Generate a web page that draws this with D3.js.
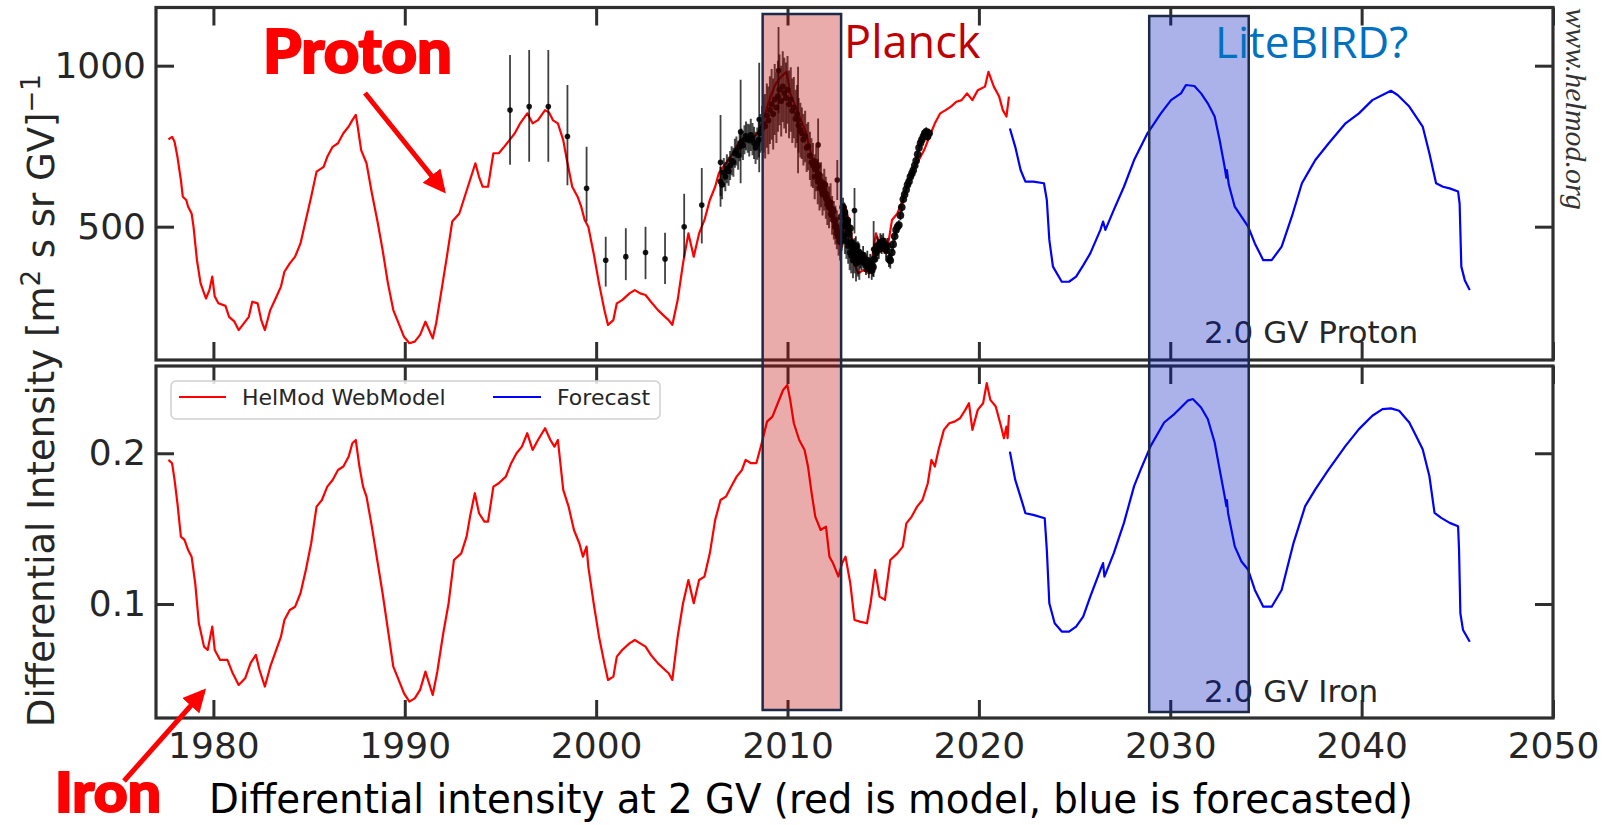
<!DOCTYPE html>
<html>
<head>
<meta charset="utf-8">
<script src="https://cdn.jsdelivr.net/npm/d3@7"></script>
<style>
  html, body { margin: 0; padding: 0; background: #ffffff; }
  svg { display: block; }
</style>
</head>
<body>
<svg id="chart" width="1608" height="825"></svg>
<script>
// ---------------------------------------------------------------
// Axis ticks
// ---------------------------------------------------------------
const yearTicks = [1980, 1990, 2000, 2010, 2020, 2030, 2040, 2050];
const protonTicks = [500, 1000];
const ironTicks = [0.1, 0.2];
const yearDomain = [1977, 2050];
const protonDomain = [86, 1180.7];
const ironDomain = [0.02435, 0.2579];

// Mission windows (years)
const planckSpan = [2008.7, 2012.8];
const litebirdSpan = [2028.9, 2034.1];

// ---------------------------------------------------------------
// HelMod model, 2 GV protons [m^2 s sr GV]^-1
// ---------------------------------------------------------------
const protonModel = [
  [1977.65,771],[1977.84,779],[1977.97,764],[1978.12,717],[1978.30,645],[1978.40,593],
  [1978.58,583],[1978.68,562],[1978.86,541],[1978.96,500],[1979.14,396],[1979.33,324],
  [1979.61,277],[1979.79,303],[1979.94,345],[1980.07,283],[1980.26,262],[1980.63,254],
  [1980.82,220],[1981.10,205],[1981.32,179],[1981.66,205],[1981.85,220],[1982.03,267],
  [1982.31,262],[1982.50,210],[1982.69,179],[1982.97,241],[1983.25,277],[1983.53,314],
  [1983.71,360],[1983.99,386],[1984.27,407],[1984.55,448],[1984.83,521],[1985.11,593],
  [1985.39,671],[1985.76,686],[1985.95,717],[1986.23,748],[1986.51,759],[1986.79,790],
  [1987.07,811],[1987.26,831],[1987.44,847],[1987.54,811],[1987.72,738],[1988.00,697],
  [1988.28,604],[1988.56,521],[1988.84,428],[1989.12,324],[1989.40,241],[1989.68,200],
  [1989.96,158],[1990.24,138],[1990.52,143],[1990.80,164],[1991.08,205],[1991.27,179],
  [1991.46,153],[1991.64,200],[1991.92,303],[1992.20,407],[1992.48,516],[1992.85,541],
  [1993.13,593],[1993.41,645],[1993.69,697],[1993.88,655],[1994.07,624],[1994.35,624],
  [1994.63,728],[1994.91,728],[1995.19,748],[1995.47,769],[1995.75,790],[1996.03,821],
  [1996.40,852],[1996.68,821],[1996.96,831],[1997.33,862],[1997.54,855],[1997.75,830],
  [1998.00,821],[1998.28,769],[1998.47,707],[1998.75,624],[1999.03,593],[1999.22,562],
  [1999.40,521],[1999.59,500],[1999.87,417],[2000.15,324],[2000.43,241],[2000.62,195],
  [2000.90,210],[2001.08,262],[2001.36,272],[2001.74,293],[2002.02,303],[2002.30,293],
  [2002.58,288],[2002.86,267],[2003.23,241],[2003.60,220],[2003.79,210],[2003.98,195],
  [2004.26,272],[2004.54,386],[2004.82,479],[2005.10,407],[2005.38,479],[2005.66,521],
  [2005.94,583],[2006.22,624],[2006.41,666],[2006.78,697],[2007.15,728],[2007.53,769],
  [2007.90,780],[2008.27,780],[2008.55,800],[2008.83,852],[2009.11,904],[2009.39,945],
  [2009.67,966],[2009.95,981],[2010.14,914],[2010.42,873],[2010.70,831],[2010.98,790],
  [2011.26,717],[2011.54,666],[2011.82,614],[2012.10,572],[2012.38,521],[2012.66,479],
  [2012.85,438],[2013.03,562],[2013.31,490],[2013.50,386],[2013.69,355],[2013.97,365],
  [2014.25,355],[2014.43,407],[2014.62,479],[2014.90,428],[2015.18,417],[2015.46,521],
  [2015.74,541],[2016.02,583],[2016.30,635],[2016.58,676],[2016.86,707],[2017.14,738],
  [2017.42,780],[2017.70,821],[2017.98,852],[2018.26,862],[2018.54,873],[2018.82,888],
  [2019.10,893],[2019.38,914],[2019.66,893],[2019.94,924],[2020.32,935],[2020.50,981],
  [2020.78,935],[2021.06,904],[2021.25,862],[2021.44,842],[2021.57,904]
];

// Forecast, 2 GV protons
const protonForecast = [
  [2021.62,805],[2021.90,748],[2022.18,676],[2022.43,640],[2022.84,640],[2023.40,635],
  [2023.55,583],[2023.68,459],[2023.87,376],[2024.33,329],[2024.71,329],[2025.08,345],
  [2025.45,380],[2025.82,417],[2026.35,490],[2026.49,516],[2026.61,490],[2027.05,552],
  [2027.58,624],[2028.11,707],[2028.81,790],[2029.51,852],[2030.04,893],[2030.56,914],
  [2030.82,940],[2031.26,937],[2031.61,914],[2031.96,883],[2032.32,842],[2032.58,769],
  [2032.84,686],[2032.93,652],[2032.96,676],[2033.06,630],[2033.37,562],[2033.72,531],
  [2034.07,500],[2034.42,448],[2034.86,396],[2035.30,396],[2035.82,438],[2036.35,531],
  [2036.88,635],[2037.23,671],[2037.58,707],[2038.28,759],[2039.16,821],[2039.86,852],
  [2040.56,893],[2041.09,909],[2041.53,922],[2041.88,909],[2042.49,873],[2042.84,842],
  [2043.19,811],[2043.54,728],[2043.89,635],[2044.25,624],[2044.60,619],[2045.04,609],
  [2045.12,572],[2045.21,376],[2045.39,334],[2045.65,303]
];

// HelMod model, 2 GV iron
const ironModel = [
  [1977.65,0.1956],[1977.84,0.1934],[1977.97,0.1823],[1978.12,0.1668],[1978.30,0.1447],
  [1978.49,0.1425],[1978.68,0.1358],[1978.86,0.1314],[1979.05,0.1137],[1979.24,0.0872],
  [1979.51,0.0717],[1979.70,0.0695],[1979.94,0.0850],[1980.07,0.0695],[1980.35,0.0629],
  [1980.73,0.0629],[1981.01,0.0540],[1981.32,0.0463],[1981.66,0.0507],[1981.94,0.0607],
  [1982.22,0.0662],[1982.41,0.0562],[1982.69,0.0452],[1982.97,0.0584],[1983.25,0.0684],
  [1983.53,0.0783],[1983.71,0.0894],[1983.99,0.0960],[1984.27,0.0982],[1984.55,0.1071],
  [1984.83,0.1226],[1985.11,0.1403],[1985.39,0.1646],[1985.67,0.1690],[1985.95,0.1779],
  [1986.23,0.1823],[1986.51,0.1889],[1986.79,0.1912],[1987.07,0.1978],[1987.26,0.2066],
  [1987.44,0.2088],[1987.63,0.1912],[1987.82,0.1779],[1988.00,0.1712],[1988.28,0.1513],
  [1988.56,0.1292],[1988.84,0.1071],[1989.12,0.0828],[1989.40,0.0584],[1989.68,0.0496],
  [1989.96,0.0407],[1990.24,0.0352],[1990.52,0.0374],[1990.80,0.0430],[1991.08,0.0551],
  [1991.27,0.0474],[1991.46,0.0396],[1991.70,0.0551],[1992.01,0.0806],[1992.29,0.1005],
  [1992.57,0.1292],[1992.95,0.1336],[1993.23,0.1447],[1993.41,0.1580],[1993.66,0.1735],
  [1993.88,0.1602],[1994.16,0.1547],[1994.35,0.1547],[1994.63,0.1779],[1994.91,0.1801],
  [1995.28,0.1845],[1995.56,0.1934],[1995.84,0.2000],[1996.12,0.2044],[1996.40,0.2133],
  [1996.68,0.2022],[1996.96,0.2088],[1997.33,0.2166],[1997.61,0.2088],[1997.82,0.2044],
  [1998.00,0.2088],[1998.28,0.1757],[1998.56,0.1646],[1998.84,0.1491],[1999.12,0.1403],
  [1999.31,0.1314],[1999.50,0.1381],[1999.59,0.1248],[1999.87,0.1005],[2000.15,0.0783],
  [2000.43,0.0606],[2000.62,0.0496],[2000.90,0.0518],[2001.08,0.0651],[2001.36,0.0695],
  [2001.74,0.0739],[2002.02,0.0761],[2002.30,0.0739],[2002.58,0.0717],[2002.86,0.0662],
  [2003.23,0.0606],[2003.60,0.0562],[2003.79,0.0540],[2003.98,0.0496],[2004.26,0.0783],
  [2004.54,0.1005],[2004.82,0.1159],[2005.10,0.1005],[2005.38,0.1159],[2005.66,0.1182],
  [2005.94,0.1336],[2006.22,0.1558],[2006.50,0.1690],[2006.78,0.1712],[2007.06,0.1779],
  [2007.34,0.1845],[2007.62,0.1889],[2007.81,0.1956],[2008.09,0.1934],[2008.37,0.1934],
  [2008.65,0.2066],[2008.93,0.2210],[2009.21,0.2243],[2009.49,0.2332],[2009.77,0.2420],
  [2009.99,0.2453],[2010.14,0.2354],[2010.33,0.2199],[2010.61,0.2088],[2010.89,0.2022],
  [2011.07,0.1912],[2011.26,0.1735],[2011.45,0.1580],[2011.73,0.1491],[2012.01,0.1513],
  [2012.19,0.1314],[2012.38,0.1270],[2012.66,0.1182],[2012.85,0.1270],[2013.03,0.1314],
  [2013.28,0.1137],[2013.50,0.0894],[2013.78,0.0883],[2014.15,0.0872],[2014.34,0.1005],
  [2014.58,0.1226],[2014.81,0.1049],[2015.09,0.1027],[2015.37,0.1292],[2015.74,0.1336],
  [2016.02,0.1381],[2016.21,0.1535],[2016.49,0.1580],[2016.77,0.1646],[2017.05,0.1690],
  [2017.33,0.1801],[2017.52,0.1956],[2017.70,0.1912],[2017.89,0.2022],[2018.17,0.2155],
  [2018.45,0.2199],[2018.73,0.2210],[2019.01,0.2232],[2019.29,0.2288],[2019.48,0.2332],
  [2019.66,0.2155],[2019.94,0.2288],[2020.22,0.2332],[2020.41,0.2465],[2020.60,0.2354],
  [2020.88,0.2310],[2021.16,0.2177],[2021.31,0.2100],[2021.44,0.2177],[2021.50,0.2100],
  [2021.57,0.2254]
];

// Forecast, 2 GV iron
const ironForecast = [
  [2021.62,0.2011],[2021.90,0.1823],[2022.28,0.1668],[2022.43,0.1602],[2022.84,0.1591],
  [2023.44,0.1569],[2023.55,0.1359],[2023.68,0.1005],[2023.96,0.0872],[2024.33,0.0817],
  [2024.71,0.0817],[2025.08,0.0850],[2025.45,0.0916],[2025.82,0.1049],[2026.35,0.1227],
  [2026.49,0.1271],[2026.56,0.1182],[2027.05,0.1338],[2027.58,0.1538],[2028.11,0.1782],
  [2028.46,0.1893],[2028.98,0.2049],[2029.68,0.2204],[2030.21,0.2260],[2030.56,0.2304],
  [2030.91,0.2349],[2031.18,0.2360],[2031.61,0.2304],[2031.96,0.2227],[2032.32,0.2071],
  [2032.58,0.1893],[2032.84,0.1716],[2032.93,0.1650],[2032.96,0.1690],[2033.02,0.1604],
  [2033.37,0.1382],[2033.72,0.1282],[2034.07,0.1227],[2034.42,0.1093],[2034.86,0.0982],
  [2035.30,0.0982],[2035.82,0.1093],[2036.44,0.1404],[2037.05,0.1649],[2037.58,0.1760],
  [2038.28,0.1893],[2039.16,0.2049],[2039.86,0.2160],[2040.56,0.2249],[2041.09,0.2293],
  [2041.53,0.2298],[2041.96,0.2282],[2042.49,0.2204],[2042.84,0.2116],[2043.19,0.2027],
  [2043.54,0.1849],[2043.81,0.1604],[2044.16,0.1571],[2044.60,0.1538],[2045.04,0.1516],
  [2045.09,0.1360],[2045.16,0.0938],[2045.30,0.0827],[2045.65,0.0749]
];

// Yearly proton measurements: [year, value, low, high]
const yearlyData = [
  [1995.5,862,692,1033],[1996.5,873,702,1049],[1997.5,873,702,1049],[1998.5,780,629,940],
  [1999.5,619,516,748],[2000.5,396,314,469],[2001.55,407,334,495],[2002.58,420,337,500],
  [2003.6,400,322,481],[2004.6,500,404,602],[2005.52,567,448,682],[2006.5,700,562,847],
  [2007.55,795,635,956],[2008.52,833,669,1009],[2009.53,985,852,1120],[2010.55,831,666,997],
  [2011.6,754,671,836],[2012.6,645,583,707],[2013.5,550,479,620],[2014.5,430,344,518]
];

// Monthly proton measurements: [year, value, error]
const monthlyData = [
  [2006.50,640,45],[2006.58,630,45],[2006.67,668,45],[2006.75,655,45],[2006.83,680,45],
  [2006.92,672,45],[2007.00,690,45],[2007.08,705,45],[2007.17,700,45],[2007.25,728,45],
  [2007.33,735,45],[2007.42,722,45],[2007.50,748,45],[2007.58,760,45],[2007.67,752,45],
  [2007.75,770,45],[2007.83,782,45],[2007.92,775,45],[2008.00,768,50],[2008.08,785,50],
  [2008.17,772,50],[2008.25,760,50],[2008.33,745,50],[2008.42,758,50],[2008.50,770,55],
  [2008.58,790,60],[2008.67,805,70],[2008.75,820,90],[2008.83,812,100],[2008.92,845,100],
  [2009.00,830,105],[2009.08,862,105],[2009.17,880,110],[2009.25,850,110],[2009.33,895,110],
  [2009.42,870,110],[2009.50,905,110],[2009.58,925,110],[2009.67,890,110],[2009.75,935,110],
  [2009.83,915,110],[2009.92,900,110],[2010.00,925,105],[2010.08,880,105],[2010.17,895,100],
  [2010.25,860,100],[2010.33,870,95],[2010.42,835,90],[2010.50,850,90],[2010.58,815,85],
  [2010.67,800,85],[2010.75,790,80],[2010.83,770,80],[2010.92,780,80],[2011.00,745,75],
  [2011.08,750,75],[2011.17,720,75],[2011.25,700,75],[2011.33,690,70],[2011.42,655,70],
  [2011.50,680,70],[2011.58,640,70],[2011.67,620,70],[2011.75,630,70],[2011.83,600,65],
  [2011.92,615,65],[2012.00,590,65],[2012.08,570,65],[2012.17,560,65],[2012.25,575,60],
  [2012.33,535,60],[2012.42,520,60],[2012.50,505,60],[2012.58,490,60],[2012.67,470,60],
  [2012.75,455,60],[2012.83,480,55],[2012.92,500,55],[2013.00,470,55],[2013.08,455,55],
  [2013.17,440,55],[2013.25,420,55],[2013.33,410,55],[2013.42,395,55],[2013.50,410,55],
  [2013.58,385,55],[2013.67,400,55],[2013.75,390,55]
];

// Bartels-rotation proton measurements: [year, value, error]
const rotationData = [
  [2011.40,700,14],[2011.47,680,14],[2011.55,690,14],[2011.62,660,14],[2011.70,640,14],
  [2011.77,625,14],[2011.85,610,14],[2011.92,630,14],[2012.00,600,14],[2012.07,585,14],
  [2012.15,570,14],[2012.22,560,14],[2012.30,540,14],[2012.37,550,14],[2012.45,520,14],
  [2012.52,500,14],[2012.60,480,14],[2012.67,470,14],[2012.75,455,14],[2012.82,530,30],
  [2012.90,560,30],[2012.97,545,30],[2013.05,510,30],[2013.12,520,30],[2013.20,480,30],
  [2013.27,495,30],[2013.35,450,30],[2013.42,430,30],[2013.50,420,30],[2013.57,440,30],
  [2013.65,410,30],[2013.72,420,30],[2013.80,400,30],[2013.87,395,30],[2013.95,410,30],
  [2014.02,390,30],[2014.10,380,30],[2014.17,395,30],[2014.25,370,30],[2014.32,385,30],
  [2014.40,365,30],[2014.47,375,30],[2014.55,400,30],[2014.62,420,30],[2014.70,440,30],
  [2014.77,430,30],[2014.85,450,30],[2014.92,445,30],[2015.00,455,25],[2015.07,440,25],
  [2015.15,430,25],[2015.22,440,25],[2015.30,400,25],[2015.37,395,25],[2015.45,420,20],
  [2015.52,445,20],[2015.60,470,18],[2015.67,490,18],[2015.75,500,15],[2015.82,505,15],
  [2015.90,535,15],[2015.97,560,15],[2016.05,585,14],[2016.12,600,14],[2016.20,615,14],
  [2016.27,630,14],[2016.35,640,14],[2016.42,655,14],[2016.50,665,14],[2016.57,675,14],
  [2016.65,690,14],[2016.72,705,14],[2016.80,725,14],[2016.87,745,14],[2016.95,760,14],
  [2017.02,770,14],[2017.10,780,14],[2017.17,790,14],[2017.25,795,14],[2017.32,780,14],
  [2017.40,790,14]
];

// ---------------------------------------------------------------
// Layout
// ---------------------------------------------------------------
const svg = d3.select("#chart");
const plotLeft = 156, plotRight = 1553;
const topPanel = { y0: 7.5, y1: 360 };
const botPanel = { y0: 366, y1: 718 };
const axisColor = "#2f2f2f";
const textColor = "#262626";
const tickFont = "'DejaVu Sans', sans-serif";

const x = d3.scaleLinear().domain(yearDomain).range([plotLeft, plotRight]);
const yP = d3.scaleLinear().domain(protonDomain).range([topPanel.y1, topPanel.y0]);
const yI = d3.scaleLinear().domain(ironDomain).range([botPanel.y1, botPanel.y0]);

const defs = svg.append("defs");
[["clipTop", topPanel], ["clipBot", botPanel]].forEach(([id, p]) => {
  defs.append("clipPath").attr("id", id)
    .append("rect").attr("x", plotLeft).attr("y", p.y0)
    .attr("width", plotRight - plotLeft).attr("height", p.y1 - p.y0);
});
defs.append("marker").attr("id", "arrowHead")
  .attr("viewBox", "0 0 10 10").attr("refX", 8).attr("refY", 5)
  .attr("markerWidth", 4.6).attr("markerHeight", 4.6).attr("orient", "auto")
  .attr("markerUnits", "strokeWidth")
  .append("path").attr("d", "M0,0 L10,5 L0,10 z").attr("fill", "#ff0000");

function styleAxis(g) {
  g.select(".domain").remove();
  g.selectAll(".tick line").attr("stroke", axisColor).attr("stroke-width", 3);
  g.selectAll(".tick text").attr("fill", textColor)
    .attr("font-family", tickFont).attr("font-size", 36);
  g.attr("font-family", null).attr("font-size", null);
}

function drawPanel(p, yScale, yTicks, yFmt, showYears) {
  const g = svg.append("g");
  const tick = 18;
  g.append("g").attr("transform", `translate(0,${p.y1})`)
    .call(d3.axisBottom(x).tickValues(yearTicks).tickSizeInner(-tick).tickSizeOuter(0)
      .tickPadding(14).tickFormat(showYears ? d3.format("d") : () => ""))
    .call(styleAxis);
  g.append("g").attr("transform", `translate(0,${p.y0})`)
    .call(d3.axisTop(x).tickValues(yearTicks).tickSizeInner(-tick).tickSizeOuter(0)
      .tickFormat(() => ""))
    .call(styleAxis);
  g.append("g").attr("transform", `translate(${plotLeft},0)`)
    .call(d3.axisLeft(yScale).tickValues(yTicks).tickSizeInner(-tick).tickSizeOuter(0)
      .tickPadding(10).tickFormat(yFmt))
    .call(styleAxis);
  g.append("g").attr("transform", `translate(${plotRight},0)`)
    .call(d3.axisRight(yScale).tickValues(yTicks).tickSizeInner(-tick).tickSizeOuter(0)
      .tickFormat(() => ""))
    .call(styleAxis);
  g.append("rect")
    .attr("x", plotLeft).attr("y", p.y0)
    .attr("width", plotRight - plotLeft).attr("height", p.y1 - p.y0)
    .attr("fill", "none").attr("stroke", axisColor).attr("stroke-width", 3.2);
  return g;
}

// ---------------------------------------------------------------
// Curves
// ---------------------------------------------------------------
function drawCurve(data, yScale, color, clip) {
  const line = d3.line().x(d => x(d[0])).y(d => yScale(d[1]));
  svg.append("path").datum(data)
    .attr("clip-path", `url(#${clip})`)
    .attr("d", line).attr("fill", "none")
    .attr("stroke", color).attr("stroke-width", 2.2)
    .attr("stroke-linejoin", "round");
}

drawCurve(protonModel, yP, "#ff0000", "clipTop");
drawCurve(protonForecast, yP, "#0000ff", "clipTop");
drawCurve(ironModel, yI, "#ff0000", "clipBot");
drawCurve(ironForecast, yI, "#0000ff", "clipBot");

// Measurements with error bars
const dataG = svg.append("g").attr("clip-path", "url(#clipTop)");
function drawPoints(rows, getLo, getHi, r, barW, barOpacity) {
  const g = dataG.append("g");
  g.selectAll("line").data(rows).join("line")
    .attr("x1", d => x(d[0])).attr("x2", d => x(d[0]))
    .attr("y1", d => yP(getLo(d))).attr("y2", d => yP(getHi(d)))
    .attr("stroke", "#000").attr("stroke-width", barW).attr("stroke-opacity", barOpacity);
  g.selectAll("circle").data(rows).join("circle")
    .attr("cx", d => x(d[0])).attr("cy", d => yP(d[1])).attr("r", r)
    .attr("fill", "#000").attr("fill-opacity", 0.9);
}
drawPoints(monthlyData, d => d[1] - d[2], d => d[1] + d[2], 3, 2, 0.7);
drawPoints(rotationData, d => d[1] - d[2], d => d[1] + d[2], 3.8, 1.8, 0.8);
drawPoints(yearlyData, d => d[2], d => d[3], 2.8, 1.8, 0.75);

// Frames, ticks and tick labels
drawPanel(topPanel, yP, protonTicks, d3.format("d"), false);
drawPanel(botPanel, yI, ironTicks, d3.format(".1f"), true);

// ---------------------------------------------------------------
// Legend (lower panel)
// ---------------------------------------------------------------
const legend = svg.append("g");
legend.append("rect")
  .attr("x", 171).attr("y", 381).attr("width", 489).attr("height", 38).attr("rx", 5)
  .attr("fill", "#ffffff").attr("fill-opacity", 0.85)
  .attr("stroke", "#d0d0d0").attr("stroke-width", 1.5);
const legendItems = [
  { label: "HelMod WebModel", color: "#ff0000", x0: 179, x1: 226, tx: 242 },
  { label: "Forecast", color: "#0000ff", x0: 493, x1: 541, tx: 557 }
];
legendItems.forEach(it => {
  legend.append("line").attr("x1", it.x0).attr("x2", it.x1).attr("y1", 397).attr("y2", 397)
    .attr("stroke", it.color).attr("stroke-width", 2.2);
  legend.append("text").attr("x", it.tx).attr("y", 405)
    .attr("font-family", tickFont).attr("font-size", 22).attr("fill", textColor)
    .text(it.label);
});

// Panel labels
svg.append("text").attr("x", 1204).attr("y", 343)
  .attr("font-family", tickFont).attr("font-size", 31).attr("fill", textColor)
  .text("2.0 GV Proton");
svg.append("text").attr("x", 1204).attr("y", 702)
  .attr("font-family", tickFont).attr("font-size", 31).attr("fill", textColor)
  .text("2.0 GV Iron");

// ---------------------------------------------------------------
// Mission windows
// ---------------------------------------------------------------
function missionBox(span, fill, y0, y1) {
  svg.append("rect")
    .attr("x", x(span[0])).attr("y", y0)
    .attr("width", x(span[1]) - x(span[0])).attr("height", y1 - y0)
    .attr("fill", fill).attr("fill-opacity", 0.33)
    .attr("stroke", "#1c2a48").attr("stroke-width", 2.5);
}
missionBox(planckSpan, "rgb(192,0,0)", 14, 710);
missionBox(litebirdSpan, "rgb(0,20,190)", 16, 712);

svg.append("text").attr("x", x(planckSpan[1]) + 3).attr("y", 58)
  .attr("font-family", "'Open Sans', 'Noto Sans', sans-serif").attr("font-size", 45)
  .attr("fill", "#c00000").text("Planck");
svg.append("text").attr("x", 1215).attr("y", 58)
  .attr("font-family", "'Open Sans', 'Noto Sans', sans-serif").attr("font-size", 44)
  .attr("fill", "#0070c0").text("LiteBIRD?");

// ---------------------------------------------------------------
// Species call-outs
// ---------------------------------------------------------------
function callout(label, tx, ty, size, width, ax1, ay1, ax2, ay2) {
  svg.append("text").attr("x", tx).attr("y", ty)
    .attr("font-family", "Lato, 'Liberation Sans', sans-serif").attr("font-weight", 900)
    .attr("font-size", size).attr("fill", "#ff0000")
    .attr("stroke", "#ff0000").attr("stroke-width", 2)
    .attr("textLength", width).attr("lengthAdjust", "spacingAndGlyphs")
    .text(label);
  svg.append("line").attr("x1", ax1).attr("y1", ay1).attr("x2", ax2).attr("y2", ay2)
    .attr("stroke", "#ff0000").attr("stroke-width", 5)
    .attr("marker-end", "url(#arrowHead)");
}
callout("Proton", 263, 73, 60, 189, 365, 93, 443, 190);
callout("Iron", 55, 812, 56, 106, 124, 781, 203, 692);

// ---------------------------------------------------------------
// Axis titles and credit
// ---------------------------------------------------------------
const yTitle = svg.append("text")
  .attr("transform", "translate(54,727) rotate(-90)")
  .attr("font-family", tickFont).attr("font-size", 37).attr("fill", textColor);
yTitle.append("tspan").text("Differential Intensity [m");
yTitle.append("tspan").attr("dy", -14).attr("font-size", 26).text("2");
yTitle.append("tspan").attr("dy", 14).text(" s sr GV]");
yTitle.append("tspan").attr("dy", -14).attr("font-size", 26).text("\u22121");

svg.append("text").attr("x", 209).attr("y", 813)
  .attr("font-family", tickFont).attr("font-size", 40).attr("fill", "#000")
  .attr("textLength", 1204).attr("lengthAdjust", "spacingAndGlyphs")
  .text("Differential intensity at 2 GV (red is model, blue is forecasted)");

svg.append("text")
  .attr("transform", "translate(1566,8) rotate(90)")
  .attr("font-family", "'Liberation Serif', 'DejaVu Serif', serif")
  .attr("font-style", "italic").attr("font-size", 30).attr("fill", "#333")
  .text("www.helmod.org");
</script>
</body>
</html>
